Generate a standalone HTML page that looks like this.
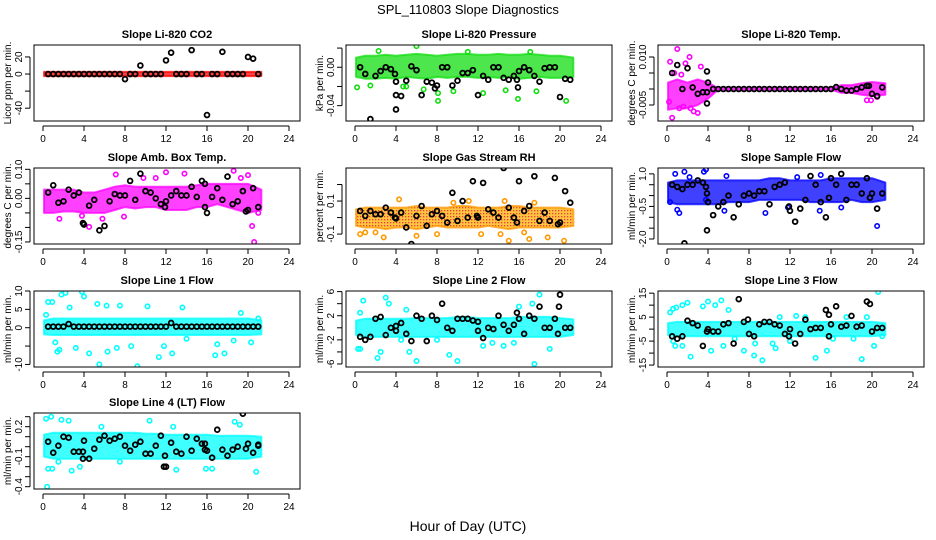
<!DOCTYPE html>
<html><head><meta charset="utf-8"><style>
html,body{margin:0;padding:0;background:#fff;}
svg{display:block;font-family:"Liberation Sans",sans-serif;}
</style></head><body>
<svg id="chart" width="936" height="540" viewBox="0 0 936 540" xmlns="http://www.w3.org/2000/svg">
<defs>
<pattern id="rhpat" width="3" height="3" patternUnits="userSpaceOnUse"><rect width="3" height="3" fill="#ffb000"/><rect x="0" y="0" width="1.3" height="1.3" fill="#e00000"/></pattern>
</defs>
<text x="468" y="14" text-anchor="middle" font-size="13">SPL_110803  Slope Diagnostics</text>
<text x="468" y="531" text-anchor="middle" font-size="14">Hour of Day (UTC)</text>
<g id="panels"></g>
</svg>
<script>
// shared time arrays (hours)
const blackHours=[0.5,1,1.5,2,2.5,3,3.5,4,4.5,5,5.5,6,6.5,7,7.5,8,8.5,9,9.5,10,10.5,11,11.5,12,12.5,13,13.5,14,14.5,15,15.5,16,16.5,17,17.5,18,18.5,19,19.5,20,20.5,21];
const envHours=[0.1,1,2,3,4,5,6,7,8,9,10,11,12,13,14,15,16,17,18,19,20,21.3];
const xTicks=[0,4,8,12,16,20,24];

// P1 CO2
const co2Black=[0,0,0,0,0,0,0,0,0,0,0,0,0,0,0,-6,0,0,10,0,0,0,0,16,25,0,0,0,28,0,0,-48,0,0,26,0,0,0,0,20,18,0];
const co2ExX=[];const co2ExY=[];
const co2EnvLo=[-2.5,-2.5,-2.5,-2.5,-2.5,-2.5,-2.5,-2.5,-2.5,-2.5,-2.5,-2.5,-2.5,-2.5,-2.5,-2.5,-2.5,-2.5,-2.5,-2.5,-2.5,-2.5];
const co2EnvHi=[2.5,2.5,2.5,2.5,2.5,2.5,2.5,2.5,2.5,2.5,2.5,2.5,2.5,2.5,2.5,2.5,2.5,2.5,2.5,2.5,2.5,2.5];
const co2OutX=[];const co2OutY=[];

// P2 Pressure
const presBlack=[0,-0.007,-0.054,-0.009,-0.004,0,-0.002,-0.015,-0.030,-0.014,0.001,-0.003,-0.029,-0.015,-0.016,-0.019,0,0,-0.019,-0.014,-0.006,-0.006,-0.003,-0.029,-0.009,-0.013,0,0,-0.011,-0.013,-0.009,-0.004,0,-0.003,-0.009,-0.015,-0.001,0,0,-0.031,-0.012,-0.013];
const presExX=[4.0,4.0,3.9,7.8,15.8,15.9];const presExY=[-0.029,-0.044,-0.007,-0.022,-0.013,-0.021];
const presEnvLo=[-0.010,-0.012,-0.012,-0.011,-0.012,-0.010,-0.011,-0.012,-0.010,-0.011,-0.010,-0.010,-0.011,-0.010,-0.011,-0.010,-0.012,-0.011,-0.010,-0.011,-0.011,-0.010];
const presEnvHi=[0.010,0.012,0.012,0.013,0.012,0.013,0.014,0.013,0.012,0.013,0.014,0.014,0.013,0.013,0.014,0.013,0.013,0.014,0.013,0.012,0.012,0.010];
const presOutX=[0.2,1.5,5.0,6.0,6.7,8.1,8.1,9.6,12.5,14.7,15.9,17.7,20.6,11.0,17.1,4.7,2.3];
const presOutY=[-0.021,-0.019,-0.020,0.022,-0.023,-0.027,-0.035,-0.025,-0.027,-0.024,-0.033,-0.025,-0.035,0.016,0.016,-0.020,0.017];

// P3 Temp
const tempBlack=[0.005,0.0075,0,0.0065,0.0005,-0.0015,-0.001,0.002,0,0,0,0,0,0,0,0,0,0,0,0,0,0,0,0,0,0,0,0,0,0,0,0,0.0006,0,-0.0005,-0.0005,0,0.0005,0.001,-0.0015,-0.0022,0.0005];
const tempExX=[3.9,3.9,3.9,19.7];const tempExY=[0.0055,-0.0045,-0.001,0.001];
const tempEnvLo=[-0.0065,-0.006,-0.006,-0.005,-0.003,-0.0002,-0.0002,-0.0002,-0.0002,-0.0002,-0.0002,-0.0002,-0.0002,-0.0002,-0.0002,-0.0002,-0.0002,-0.0012,-0.0012,-0.0018,-0.0022,-0.0018];
const tempEnvHi=[0.002,0.003,0.002,0.003,0.002,0.0002,0.0002,0.0002,0.0002,0.0002,0.0002,0.0002,0.0002,0.0002,0.0002,0.0002,0.0002,0.0012,0.0012,0.0018,0.0022,0.0018];
const tempOutX=[0.3,1.0,1.4,1.8,2.2,0.5,0.7,3.3,3.0,2.3,1.2,19.5,19.9,20.5,0.2,2.6,1.6];
const tempOutY=[0.0085,0.0125,0.0045,0.008,0.010,-0.009,0.005,0.007,-0.0075,-0.006,-0.006,-0.0035,-0.0035,-0.0025,-0.004,-0.007,-0.0055];

// P4 Amb box temp
const ambBlack=[0.02,0.045,-0.015,-0.01,0.03,0.01,0.02,-0.09,-0.025,-0.005,-0.11,-0.095,-0.01,0.015,0.01,0.01,0.06,-0.005,0.085,0.025,0.02,0,-0.02,-0.01,0.01,0.025,0.01,0.01,0.04,0.005,0.06,-0.05,0.005,0.035,-0.005,0.075,-0.02,-0.01,0.025,-0.04,0.035,-0.03];
const ambExX=[3.9,11.9,15.8,15.8,19.8];const ambExY=[-0.085,-0.03,-0.03,0.05,-0.045];
const ambEnvLo=[-0.05,-0.05,-0.045,-0.045,-0.05,-0.05,-0.05,-0.04,-0.03,-0.035,-0.03,-0.03,-0.04,-0.04,-0.04,-0.03,-0.03,-0.02,-0.03,-0.04,-0.05,-0.04];
const ambEnvHi=[0.03,0.03,0.03,0.03,0.02,0.02,0.03,0.04,0.045,0.04,0.04,0.04,0.04,0.04,0.04,0.045,0.05,0.05,0.05,0.05,0.05,0.03];
const ambOutX=[4.5,20.4,20.6,7.1,12.0,13.8,18.6,19.3,20.0,1.6,5.8,7.9,3.8,21.0,11.0,9.8];
const ambOutY=[-0.098,-0.095,-0.15,0.082,0.09,0.085,0.095,0.07,0.08,-0.07,-0.07,-0.063,-0.06,-0.05,0.07,0.07];

// P5 Gas stream RH
const rhBlack=[0.04,0.01,0.04,0.02,0.02,0.06,0.03,-0.005,0.03,-0.06,-0.16,0.01,0.07,-0.05,0.02,0.04,0.01,-0.03,0.15,-0.02,0.1,0,0.22,0,0.21,0.05,0.03,0,0.3,0.06,0,0.22,0.04,0.07,0.25,-0.02,0.03,-0.02,0.24,-0.03,0.16,0.09];
const rhExX=[3.9,11.9,15.8,19.8];const rhExY=[0.0,0.01,-0.03,-0.04];
const rhEnvLo=[-0.05,-0.06,-0.06,-0.07,-0.06,-0.06,-0.07,-0.06,-0.05,-0.06,-0.06,-0.06,-0.06,-0.05,-0.06,-0.07,-0.06,-0.06,-0.06,-0.06,-0.06,-0.05];
const rhEnvHi=[0.05,0.06,0.06,0.06,0.06,0.06,0.07,0.06,0.06,0.06,0.07,0.07,0.06,0.06,0.06,0.07,0.07,0.06,0.06,0.06,0.06,0.05];
const rhOutX=[0.5,1.0,2.0,2.8,4.3,6.0,8.0,9.6,12.3,14.6,15.0,16.5,17.0,17.5,18.8,20.4,11.1,14.2];
const rhOutY=[-0.1,-0.09,-0.09,-0.12,0.11,-0.11,-0.1,0.09,-0.1,0.1,-0.14,-0.09,-0.13,0.09,-0.12,-0.14,0.1,-0.1];

// P6 Sample flow
const flowBlack=[0.5,0.4,0.3,0.5,0.5,0.7,0.6,-0.3,-0.9,-0.5,-0.3,0,-1.0,-0.4,0,0.1,0,0.2,0.2,-0.4,0.4,0.5,0.6,-0.7,-1.2,-0.6,-0.2,0.9,0.5,-0.3,-1.0,0.8,0.5,1.0,-0.2,0.5,0.5,0.1,0.8,0.1,-0.6,0.1];
const flowExX=[1.7,15.8,19.8,11.9,3.8,3.9,3.9];const flowExY=[-2.2,-0.1,-0.1,-0.5,0.4,0.1,-1.6];
const flowEnvLo=[-0.3,-0.4,-0.4,-0.4,-0.4,-0.4,-0.3,-0.3,-0.3,-0.2,-0.2,-0.2,-0.2,-0.2,-0.3,-0.3,-0.3,-0.3,-0.2,-0.3,-0.3,-0.2];
const flowEnvHi=[0.6,0.7,0.7,0.7,0.7,0.7,0.7,0.7,0.7,0.7,0.8,0.8,0.7,0.7,0.7,0.7,0.8,0.8,0.8,0.8,0.8,0.6];
const flowOutX=[0.8,1.7,2.2,3.6,3.8,5.8,0.3,1.0,1.2,3.8,9.6,11.8,15.0,14.9,17.0,20.5,5.6,12.7];
const flowOutY=[1.0,1.1,0.85,1.1,1.2,0.9,-0.3,-0.65,-0.8,-0.2,-0.8,-0.55,0.95,-0.7,-0.55,-1.4,-0.7,0.85];

// P7 Line 1 flow
const l1Black=[0.3,0.3,0.3,0.3,1.0,0.3,0.3,0.3,0.3,0.3,0.3,0.3,0.3,0.3,0.3,0.3,0.3,0.3,0.3,0.3,0.3,0.3,0.3,0.3,1.3,0.3,0.3,0.3,0.3,0.3,0.3,0.3,0.3,0.3,0.3,0.3,0.3,0.3,0.3,0.3,0.3,0.3];
const l1ExX=[];const l1ExY=[];
const l1EnvLo=[-1.8,-2,-2,-2,-2,-2,-2,-2,-2,-2,-2,-2,-2,-2,-2,-2,-2,-2,-2,-2,-2,-1.8];
const l1EnvHi=[2,2.5,2.5,2.5,2.5,2.5,2.5,2.5,2.5,2.5,2.5,2.5,2.5,2.5,2.5,2.5,2.5,2.5,2.5,2.5,2.5,2];
const l1OutX=[0.3,0.5,0.9,1.2,1.4,1.6,1.8,2.2,2.6,3.2,3.8,4.0,4.5,5.3,6.3,7.2,7.5,8.6,11.3,11.8,12.6,13.6,14.0,17.0,17.7,18.6,19.3,20.3,21.0,9.2,5.5,16.8,6.2,10.2];
const l1OutY=[3.5,7,7,-4,-6.5,-6,9,9.5,5.5,-5.5,9.8,8.5,-7,6.5,-6.5,-5.5,6,-5,-8,-5,-7,5.5,-3,-4.5,-7,-3.5,4,-4,2.5,-10.5,-10,-7.5,6,5.8];

// P8 Line 2 flow
const l2Black=[-1.5,-2,-1.5,1.5,1.8,-1.2,0,0.3,0.8,-1,-2.2,2,1.5,-2.2,2,1.3,4,0,-0.5,1.5,1.5,1.5,1.2,1,-1.7,0,-0.2,2,0.5,-0.5,0.5,1.5,-1,2,1.5,3.5,0,0,1.5,5.5,0,0];
const l2ExX=[19.8,19.9,15.8,12.0,4.0];const l2ExY=[-1,3.5,2.5,-0.5,-0.5];
const l2EnvLo=[-1.2,-1.5,-1.5,-1.5,-1.5,-1.5,-1.5,-1.5,-1.5,-1.5,-1.5,-1.5,-1.5,-1.5,-1.5,-1.5,-1.5,-1.5,-1.5,-1.5,-1.5,-1.2];
const l2EnvHi=[1.2,1.5,1.5,1.5,1.5,1.5,1.6,1.6,1.6,1.6,1.8,1.8,1.6,1.6,1.6,1.6,1.8,1.8,1.8,1.8,1.6,1.4];
const l2OutX=[0.5,0.8,0.3,0.5,2.2,2.5,3.0,3.3,5.0,5.3,6.0,8.0,9.2,10.0,12.5,13.4,14.5,15.5,17.5,18.0,17.3,19.0,16.0,4.5];
const l2OutY=[2.5,4.5,-3.5,-3.5,-5,-4,5,4,3,-4,-5.5,-2,-4.5,-5.5,-3,-2.5,-3,-2.5,-6,5.5,4,-3.5,3.5,-2];

// P9 Line 3 flow
const l3Black=[-3,-4,-3,3.5,2.5,1.5,-7,0,-1,-1,2,2.5,-6,12.5,3,-2,-3,2,3,3,2,1.5,-2,0,-6,-2,4,0,0.5,0.5,8,2,9.5,1,1.5,5.5,1,1.5,11.5,-1,0.5,0.5];
const l3ExX=[3.9,7.9,11.9,15.8,15.8,19.8];const l3ExY=[-1,4,-3,6,-3,10.5];
const l3EnvLo=[-2.5,-3,-3,-3,-3,-3,-3,-3,-3,-3,-3,-3,-3,-3,-3,-3,-3,-3,-3,-3,-3,-2.5];
const l3EnvHi=[2.5,3,3,3,3,3,3,3,3,3,3,3,3,3,3,3,3,3,3,3,3,2.5];
const l3OutX=[0.3,0.6,0.9,1.5,0.6,0.8,1.5,2.0,2.3,3.5,4.0,4.7,5.3,4.3,5.5,6.0,6.6,7.5,8.6,8.5,9.3,10.3,10.6,11.0,12.0,13.5,14.5,15.6,16.2,17.5,18.2,19.0,19.5,20.6,21.0,20.2,12.6];
const l3OutY=[7,8.5,9,10,-5,-7,-7,11,-11.5,9.5,11.5,10,12,-9,-7,8,-4,-9,-6,-11,-13,-6,-8,5,-5,5,-12,-9,-4,5,-4,-12.5,5,15.5,-3,-7,5.5];

// P10 Line 4 (LT) flow
const l4Black=[0.05,-0.06,0.01,0.1,0.09,-0.05,-0.05,0.06,-0.12,-0.02,0.07,0.11,0.06,0.08,0.1,0.01,-0.04,0.02,0.05,-0.07,-0.07,0.01,0.11,-0.2,0.04,-0.05,-0.07,0.1,-0.04,0.08,0.03,-0.04,-0.11,0.17,-0.03,-0.09,-0.03,0,0.33,0.03,-0.06,0.01];
const l4ExX=[3.9,3.9,11.8,11.9,15.8,15.8,19.8,21.0];const l4ExY=[-0.12,-0.05,-0.2,-0.09,-0.03,0.03,-0.02,0.02];
const l4EnvLo=[-0.1,-0.12,-0.12,-0.12,-0.12,-0.12,-0.12,-0.12,-0.12,-0.12,-0.12,-0.12,-0.12,-0.12,-0.12,-0.12,-0.12,-0.12,-0.12,-0.12,-0.12,-0.1];
const l4EnvHi=[0.12,0.14,0.14,0.14,0.14,0.14,0.14,0.14,0.14,0.14,0.13,0.13,0.12,0.12,0.12,0.12,0.12,0.11,0.11,0.11,0.11,0.1];
const l4OutX=[0.3,0.8,1.8,2.5,0.4,0.5,0.9,2.8,3.6,10.4,13.0,15.9,16.5,20.8,18.7,19.2,5.7,12.7,1.5,7.5];
const l4OutY=[0.28,0.3,0.27,0.26,-0.4,-0.22,-0.22,-0.24,-0.2,0.26,-0.23,-0.22,-0.22,-0.25,0.25,0.22,0.2,0.2,-0.15,-0.15];

const NS='http://www.w3.org/2000/svg';
const root=document.getElementById('panels');
function mk(tag,attrs,parent){const e=document.createElementNS(NS,tag);for(const k in attrs)e.setAttribute(k,attrs[k]);(parent||root).appendChild(e);return e;}

const panels=[
 {key:'co2',title:'Slope Li-820 CO2',ylab:'Licor ppm per min.',col:0,row:0,ymin:-55,ymax:34,ticks:[20,0,-20,-40],labels:['20','0','','-40'],color:'#ff0000',black:co2Black,exX:co2ExX,exY:co2ExY,lo:co2EnvLo,hi:co2EnvHi,ox:co2OutX,oy:co2OutY},
 {key:'pressure',title:'Slope Li-820 Pressure',ylab:'kPa per min.',col:1,row:0,ymin:-0.056,ymax:0.0232,ticks:[0.02,0,-0.02,-0.04],labels:['','0.00','','-0.04'],color:'#11dd11',black:presBlack,exX:presExX,exY:presExY,lo:presEnvLo,hi:presEnvHi,ox:presOutX,oy:presOutY},
 {key:'temp',title:'Slope Li-820 Temp.',ylab:'degrees C per min.',col:2,row:0,ymin:-0.01,ymax:0.01375,ticks:[0.01,0.005,0,-0.005],labels:['0.010','','','-0.005'],color:'#ff00ff',black:tempBlack,exX:tempExX,exY:tempExY,lo:tempEnvLo,hi:tempEnvHi,ox:tempOutX,oy:tempOutY},
 {key:'amb',title:'Slope Amb. Box Temp.',ylab:'degrees C per min.',col:0,row:1,ymin:-0.157,ymax:0.1045,ticks:[0.1,0.05,0,-0.05,-0.1,-0.15],labels:['0.10','','0.00','','','-0.15'],color:'#ff00ff',black:ambBlack,exX:ambExX,exY:ambExY,lo:ambEnvLo,hi:ambEnvHi,ox:ambOutX,oy:ambOutY},
 {key:'rh',title:'Slope Gas Stream RH',ylab:'percent per min.',col:1,row:1,ymin:-0.16,ymax:0.30,ticks:[0.2,0.1,0,-0.1],labels:['','0.1','','-0.1'],color:'#ff9900',fill:'url(#rhpat)',black:rhBlack,exX:rhExX,exY:rhExY,lo:rhEnvLo,hi:rhEnvHi,ox:rhOutX,oy:rhOutY},
 {key:'sample-flow',title:'Slope Sample Flow',ylab:'ml/min per min.',col:2,row:1,ymin:-2.23,ymax:1.27,ticks:[1,0.5,0,-0.5,-1,-1.5,-2],labels:['1.0','','','-0.5','','','-2.0'],color:'#0000ff',black:flowBlack,exX:flowExX,exY:flowExY,lo:flowEnvLo,hi:flowEnvHi,ox:flowOutX,oy:flowOutY},
 {key:'line1',title:'Slope Line 1 Flow',ylab:'ml/min per min.',col:0,row:2,ymin:-10.7,ymax:10,ticks:[10,5,0,-5,-10],labels:['10','5','0','','-10'],color:'#00ffff',black:l1Black,exX:l1ExX,exY:l1ExY,lo:l1EnvLo,hi:l1EnvHi,ox:l1OutX,oy:l1OutY},
 {key:'line2',title:'Slope Line 2 Flow',ylab:'ml/min per min.',col:1,row:2,ymin:-6.5,ymax:6.1,ticks:[6,4,2,0,-2,-4,-6],labels:['6','','2','','-2','','-6'],color:'#00ffff',black:l2Black,exX:l2ExX,exY:l2ExY,lo:l2EnvLo,hi:l2EnvHi,ox:l2OutX,oy:l2OutY},
 {key:'line3',title:'Slope Line 3 Flow',ylab:'ml/min per min.',col:2,row:2,ymin:-15.8,ymax:15.9,ticks:[15,10,5,0,-5,-10,-15],labels:['15','','5','','-5','','-15'],color:'#00ffff',black:l3Black,exX:l3ExX,exY:l3ExY,lo:l3EnvLo,hi:l3EnvHi,ox:l3OutX,oy:l3OutY},
 {key:'line4',title:'Slope Line 4 (LT) Flow',ylab:'ml/min per min.',col:0,row:3,ymin:-0.423,ymax:0.337,ticks:[0.3,0.2,0.1,0,-0.1,-0.2,-0.3,-0.4],labels:['','0.2','','','-0.1','','','-0.4'],color:'#00ffff',black:l4Black,exX:l4ExX,exY:l4ExY,lo:l4EnvLo,hi:l4EnvHi,ox:l4OutX,oy:l4OutY}
];
const rowTops=[45,168,291,413];

panels.forEach(p=>{
 const off=312*p.col, top=rowTops[p.row], bot=top+76, left=34+off, right=300+off;
 const x0=43+off, x24=289+off;
 const X=h=>x0+(x24-x0)*h/24;
 const Y=v=>bot-(v-p.ymin)/(p.ymax-p.ymin)*(bot-top);
 const g=mk('g',{});
 
 
 const t=mk('text',{x:(left+right)/2,y:top-7,'text-anchor':'middle','font-size':'11','font-weight':'bold'},g);
 
 
 t.textContent=p.title;
 const yl=mk('text',{x:0,y:0,transform:'translate('+(11+off)+','+((top+bot)/2)+') rotate(-90)','text-anchor':'middle','font-size':'10'},g);
 
 
 yl.textContent=p.ylab;
 const cp=mk('clipPath',{id:'clip-'+p.key},g);
 mk('rect',{x:left,y:top,width:right-left,height:bot-top},cp);
 const plot=mk('g',{'clip-path':'url(#clip-'+p.key+')'},g);
 let pts=[];
 for(let i=0;i<envHours.length;i++)pts.push(X(envHours[i])+','+Y(p.hi[i]));
 for(let i=envHours.length-1;i>=0;i--)pts.push(X(envHours[i])+','+Y(p.lo[i]));
 const band=mk('polygon',{points:pts.join(' '),fill:p.fill||p.color,'fill-opacity':'0.75',stroke:p.color,'stroke-opacity':'0.75','stroke-width':'2','stroke-linejoin':'round'},plot);
 
 
 for(let i=0;i<p.ox.length;i++){
  const c=mk('circle',{cx:X(p.ox[i]),cy:Y(p.oy[i]),r:2.2,fill:'none',stroke:p.color,'stroke-width':1.6},plot);
  
  
 }
 for(let i=0;i<blackHours.length;i++){
  const c=mk('circle',{cx:X(blackHours[i]),cy:Y(p.black[i]),r:2.4,fill:'none',stroke:'#000','stroke-width':1.8},plot);
  
  
 }
 for(let i=0;i<p.exX.length;i++){
  const c=mk('circle',{cx:X(p.exX[i]),cy:Y(p.exY[i]),r:2.4,fill:'none',stroke:'#000','stroke-width':1.8},plot);
  
  
 }
 const box=mk('rect',{x:left,y:top,width:right-left,height:bot-top,fill:'none',stroke:'#000','stroke-width':1},g);
 
 
 const xa=mk('g',{},g);
 
 
 mk('line',{x1:X(0),x2:X(24),y1:bot+5,y2:bot+5,stroke:'#000'},xa);
 xTicks.forEach(h=>{
  mk('line',{x1:X(h),x2:X(h),y1:bot+5,y2:bot+10,stroke:'#000'},xa);
  const tl=mk('text',{x:X(h),y:bot+21,'text-anchor':'middle','font-size':'10'},xa);
  
  
  tl.textContent=h;
 });
 const ya=mk('g',{},g);
 
 
 const inT=p.ticks.filter(v=>v>=p.ymin&&v<=p.ymax);
 mk('line',{x1:left-4,x2:left-4,y1:Y(Math.max(...inT)),y2:Y(Math.min(...inT)),stroke:'#000'},ya);
 p.ticks.forEach((v,i)=>{
  if(v<p.ymin||v>p.ymax)return;
  mk('line',{x1:left-9,x2:left-4,y1:Y(v),y2:Y(v),stroke:'#000'},ya);
  if(p.labels[i]){
   const tl=mk('text',{x:0,y:0,transform:'translate('+(left-12)+','+Y(v)+') rotate(-90)','text-anchor':'middle','font-size':'10'},ya);
   
   
   tl.textContent=p.labels[i];
  }
 });
});
</script>
</body></html>
